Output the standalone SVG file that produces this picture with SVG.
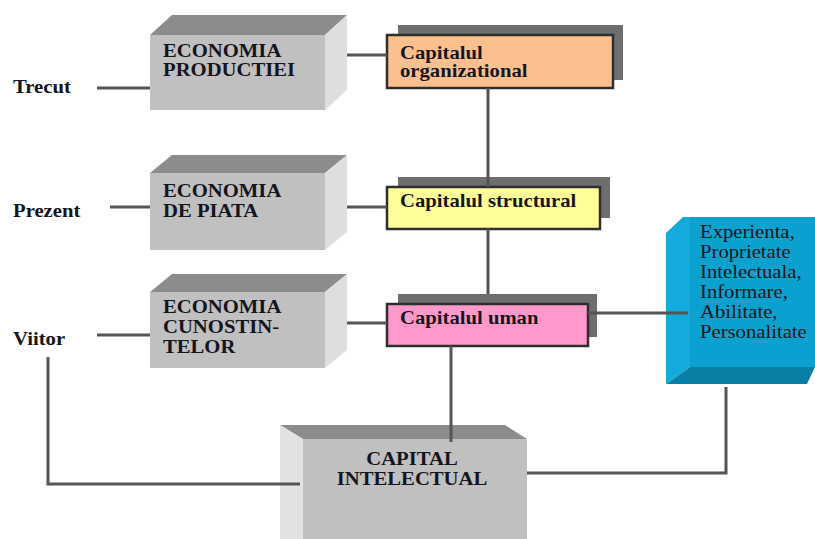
<svg xmlns="http://www.w3.org/2000/svg" width="815" height="539" viewBox="0 0 815 539">
<style>
text{font-family:"Liberation Serif","Times New Roman",serif;font-size:18px;fill:#151520}
.b{font-weight:bold}
.front{fill:#c0c0c0}
.top{fill:#8c8c8c}
.side{fill:#dedede}
.shadow{fill:#6e6e6e}
.cap{stroke:#2e2e2e;stroke-width:2.5}
.conn{fill:none;stroke:#555;stroke-width:3}
</style>
<rect width="815" height="539" fill="#fff"/>
<g id="lbl-trecut"><text class="b" transform="translate(13,93) scale(1.15,1)">Trecut</text></g>
<g id="lbl-prezent"><text class="b" transform="translate(13,217) scale(1.15,1)">Prezent</text></g>
<g id="lbl-viitor"><text class="b" transform="translate(13,345) scale(1.15,1)">Viitor</text></g>
<g id="eco-productiei">
<polygon class="top" points="150,35 172,15 347,15 325,35"/>
<polygon class="side" points="325,35 347,15 347,90 325,110"/>
<rect class="front" x="150" y="35" width="175" height="75"/>
<text class="b" transform="translate(163,57) scale(1.15,1)"><tspan x="0">ECONOMIA</tspan><tspan x="0" dy="19">PRODUCTIEI</tspan></text>
</g>
<g id="eco-piata">
<polygon class="top" points="150,173 172,155 347,155 325,173"/>
<polygon class="side" points="325,173 347,155 347,232 325,250"/>
<rect class="front" x="150" y="173" width="175" height="77"/>
<text class="b" transform="translate(163,197) scale(1.15,1)"><tspan x="0">ECONOMIA</tspan><tspan x="0" dy="20">DE PIATA</tspan></text>
</g>
<g id="eco-cunostintelor">
<polygon class="top" points="150,292 172,274 347,274 325,292"/>
<polygon class="side" points="325,292 347,274 347,350 325,368"/>
<rect class="front" x="150" y="292" width="175" height="76"/>
<text class="b" transform="translate(163,313) scale(1.15,1)"><tspan x="0">ECONOMIA</tspan><tspan x="0" dy="20">CUNOSTIN-</tspan><tspan x="0" dy="20">TELOR</tspan></text>
</g>
<g id="cap-organizational">
<rect class="shadow" x="398" y="25" width="225" height="55"/>
<rect class="cap" x="387" y="35" width="226" height="53" fill="#fbc08e"/>
<text class="b" transform="translate(400,59) scale(1.15,1)"><tspan x="0">Capitalul</tspan><tspan x="0" dy="18">organizational</tspan></text>
</g>
<g id="cap-structural">
<rect class="shadow" x="398" y="177" width="212" height="41"/>
<rect class="cap" x="387" y="187" width="213" height="42" fill="#ffff99"/>
<text class="b" transform="translate(400,207) scale(1.15,1)">Capitalul structural</text>
</g>
<g id="cap-uman">
<rect class="shadow" x="398" y="294" width="199" height="43"/>
<rect class="cap" x="387" y="304" width="201" height="42" fill="#ff99cc"/>
<text class="b" transform="translate(400,324) scale(1.15,1)">Capitalul uman</text>
</g>
<g id="componente">
<polygon points="666,233 683,217 690,217 690,367 666,384" fill="#14abdc"/>
<polygon points="666,384 690,367 815,367 807,384" fill="#0a7fa6"/>
<rect x="690" y="217" width="125" height="150" fill="#0aa1cf"/>
<text transform="translate(700,238) scale(1.15,1)"><tspan x="0">Experienta,</tspan><tspan x="0" dy="20">Proprietate</tspan><tspan x="0" dy="20">Intelectuala,</tspan><tspan x="0" dy="20">Informare,</tspan><tspan x="0" dy="20">Abilitate,</tspan><tspan x="0" dy="20">Personalitate</tspan></text>
</g>
<g id="capital-intelectual">
<polygon class="top" points="280,425 505,425 527,439 303,439"/>
<polygon points="280,425 303,439 303,539 280,539" fill="#e2e2e2"/>
<rect class="front" x="303" y="439" width="224" height="100"/>
<text class="b" text-anchor="middle" transform="translate(412,465) scale(1.15,1)"><tspan x="0">CAPITAL</tspan><tspan x="0" dy="20">INTELECTUAL</tspan></text>
</g>
<g id="connectors">
<line class="conn" x1="97" y1="88" x2="150" y2="88"/>
<line class="conn" x1="347" y1="55" x2="387" y2="55"/>
<line class="conn" x1="488" y1="88" x2="488" y2="187"/>
<line class="conn" x1="110" y1="207" x2="150" y2="207"/>
<line class="conn" x1="347" y1="207" x2="387" y2="207"/>
<line class="conn" x1="488" y1="229" x2="488" y2="294"/>
<line class="conn" x1="97" y1="335" x2="150" y2="335"/>
<line class="conn" x1="347" y1="323" x2="387" y2="323"/>
<line class="conn" x1="588" y1="313" x2="688" y2="313"/>
<line class="conn" x1="451" y1="346" x2="451" y2="442"/>
<polyline class="conn" points="48,357 48,484 300,484"/>
<polyline class="conn" points="726,387 726,473 527,473"/>
</g>
</svg>
